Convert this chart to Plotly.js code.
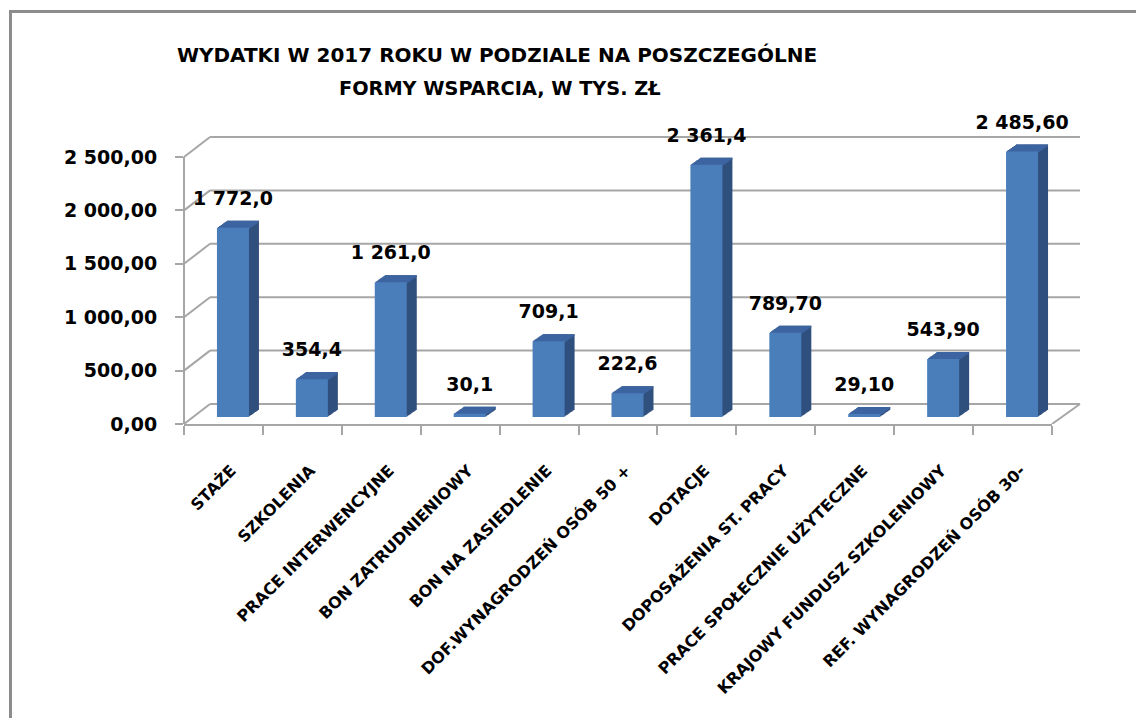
<!DOCTYPE html>
<html>
<head>
<meta charset="utf-8">
<script src="https://cdn.plot.ly/plotly-3.0.1.min.js"></script>
<style>
  html, body { margin: 0; padding: 0; background: #fff; }
  #wrap { position: relative; width: 1136px; height: 718px; overflow: hidden; }
  #chart { width: 1136px; height: 718px; }
  #frame { position: absolute; left: 9px; top: 10px; width: 1200px; height: 800px;
           border-left: 3px solid #8c8c8c; border-top: 3px solid #8c8c8c; pointer-events: none; }
</style>
</head>
<body>
<div id="wrap"><div id="chart"></div><div id="frame"></div></div>
<script>
// ---- data ----
const categories = [
  'STAŻE', 'SZKOLENIA', 'PRACE INTERWENCYJNE', 'BON ZATRUDNIENIOWY', 'BON NA ZASIEDLENIE',
  'DOF.WYNAGRODZEŃ OSÓB 50 +', 'DOTACJE', 'DOPOSAŻENIA ST. PRACY', 'PRACE SPOŁECZNIE UŻYTECZNE',
  'KRAJOWY FUNDUSZ SZKOLENIOWY', 'REF. WYNAGRODZEŃ OSÓB 30-'
];
const values = [1772.0, 354.4, 1261.0, 30.1, 709.1, 222.6, 2361.4, 789.7, 29.1, 543.9, 2485.6];
const valueLabels = ['1 772,0', '354,4', '1 261,0', '30,1', '709,1', '222,6', '2 361,4', '789,70', '29,10', '543,90', '2 485,60'];
const yTickVals = [0, 500, 1000, 1500, 2000, 2500];
const yTickText = ['0,00', '500,00', '1 000,00', '1 500,00', '2 000,00', '2 500,00'];

// ---- geometry helpers (styling only) ----
const W = 1136, H = 718;
const M = {l: 184, r: 84, t: 100, b: 294};
const plotW = W - M.l - M.r, plotH = H - M.t - M.b;
const pxPerUnit = 267 / 2500;            // front-plane scale (0 -> y=424, 2500 -> y=157)
const yMax = plotH / pxPerUnit;
const uPerPxY = 1 / pxPerUnit;
const uPerPxX = categories.length / plotW;
const barW = 32 * uPerPxX;
const barOff = 9.5 * uPerPxX - barW / 2;
const base0 = 7 * uPerPxY;
const depthX = 10, depthY = 7, N = 10;
const sliverH = 1.6 * uPerPxY;
const FONT = 'DejaVu Sans';

const traces = [];
// side faces (stack of shifted bars)
for (let k = N; k >= 1; k--) {
  traces.push({
    type: 'bar', x: categories, y: values,
    base: base0 + k * depthY / N * uPerPxY,
    offset: barOff + k * depthX / N * uPerPxX, width: barW,
    marker: {color: '#30507e', line: {width: 0}},
    hoverinfo: 'skip', showlegend: false
  });
}
// top faces (thin slivers at the top of each shifted bar)
for (let k = N; k >= 1; k--) {
  traces.push({
    type: 'bar', x: categories, y: values.map(() => sliverH),
    base: values.map(v => base0 + k * depthY / N * uPerPxY + v - sliverH),
    offset: barOff + k * depthX / N * uPerPxX, width: barW,
    marker: {color: '#3d64a0', line: {width: 0}},
    hoverinfo: 'skip', showlegend: false
  });
}
// front faces
traces.push({
  type: 'bar', x: categories, y: values, base: base0,
  offset: barOff, width: barW,
  marker: {color: '#4a7ebb', line: {width: 0}},
  hovertemplate: '%{x}: %{y}<extra></extra>', showlegend: false
});
// data labels
traces.push({
  type: 'bar', x: categories, y: values, base: base0 + (depthY + 9) * uPerPxY,
  offset: barOff, width: barW,
  marker: {color: 'rgba(0,0,0,0)', line: {width: 0}},
  text: valueLabels, textposition: 'outside', cliponaxis: false, constraintext: 'none',
  textfont: {family: FONT, size: 19, color: '#000', weight: 'bold'},
  hoverinfo: 'skip', showlegend: false
});

// wall/floor decoration
const gridColor = '#a6a6a6';
const shapes = [];
yTickVals.forEach(v => {
  shapes.push({type: 'line', xref: 'paper', xsizemode: 'pixel', xanchor: 0, x0: 0, x1: 26,
               yref: 'y', ysizemode: 'pixel', yanchor: v, y0: 0, y1: 20,
               line: {color: gridColor, width: 2}, layer: 'below'});
  shapes.push({type: 'line', xref: 'paper', xsizemode: 'pixel', xanchor: 0, x0: 26, x1: 896,
               yref: 'y', ysizemode: 'pixel', yanchor: v, y0: 20, y1: 20,
               line: {color: gridColor, width: 2}, layer: 'below'});
});
shapes.push({type: 'line', xref: 'paper', xsizemode: 'pixel', xanchor: 1, x0: 0, x1: 28,
             yref: 'y', ysizemode: 'pixel', yanchor: 0, y0: 0, y1: 20,
             line: {color: gridColor, width: 2}, layer: 'below'});
shapes.push({type: 'line', xref: 'paper', x0: 0, x1: 0, yref: 'y', y0: 0, y1: yTickVals[yTickVals.length - 1],
             line: {color: gridColor, width: 2}, layer: 'below'});

const layout = {
  width: W, height: H,
  margin: M,
  paper_bgcolor: '#fff', plot_bgcolor: 'rgba(0,0,0,0)',
  barmode: 'overlay',
  showlegend: false,
  title: {
    text: 'WYDATKI W 2017 ROKU W PODZIALE NA POSZCZEGÓLNE',
    x: 497 / W, xref: 'container', xanchor: 'center',
    y: 1 - 55 / H, yref: 'container', yanchor: 'middle',
    font: {family: FONT, size: 20, color: '#000', weight: 'bold'}
  },
  annotations: [{
    text: 'FORMY WSPARCIA, W TYS. ZŁ', showarrow: false,
    xref: 'paper', x: (500 - M.l) / plotW, xanchor: 'center',
    yref: 'paper', y: (H - M.b - 88) / plotH, yanchor: 'middle',
    font: {family: FONT, size: 19.3, color: '#000', weight: 'bold'}
  }],
  xaxis: {
    type: 'category', range: [-0.5, categories.length - 0.5],
    showgrid: false, zeroline: false,
    showline: true, linecolor: gridColor, linewidth: 2,
    ticks: 'outside', tickson: 'boundaries', ticklen: 9, tickwidth: 2, tickcolor: gridColor,
    tickangle: -45, ticklabelstandoff: 29, ticklabelshift: 8,
    tickfont: {family: FONT, size: 16, color: '#000', weight: 'bold'},
    fixedrange: true
  },
  yaxis: {
    range: [0, yMax], autorange: false,
    showgrid: false, zeroline: false, showline: false,
    tickmode: 'array', tickvals: yTickVals, ticktext: yTickText,
    ticks: 'outside', ticklen: 8, tickwidth: 2, tickcolor: gridColor,
    ticklabelstandoff: 14,
    tickfont: {family: FONT, size: 19, color: '#000', weight: 'bold'},
    fixedrange: true
  },
  shapes: shapes
};

Plotly.newPlot('chart', traces, layout, {displayModeBar: false, staticPlot: true});
</script>
</body>
</html>
